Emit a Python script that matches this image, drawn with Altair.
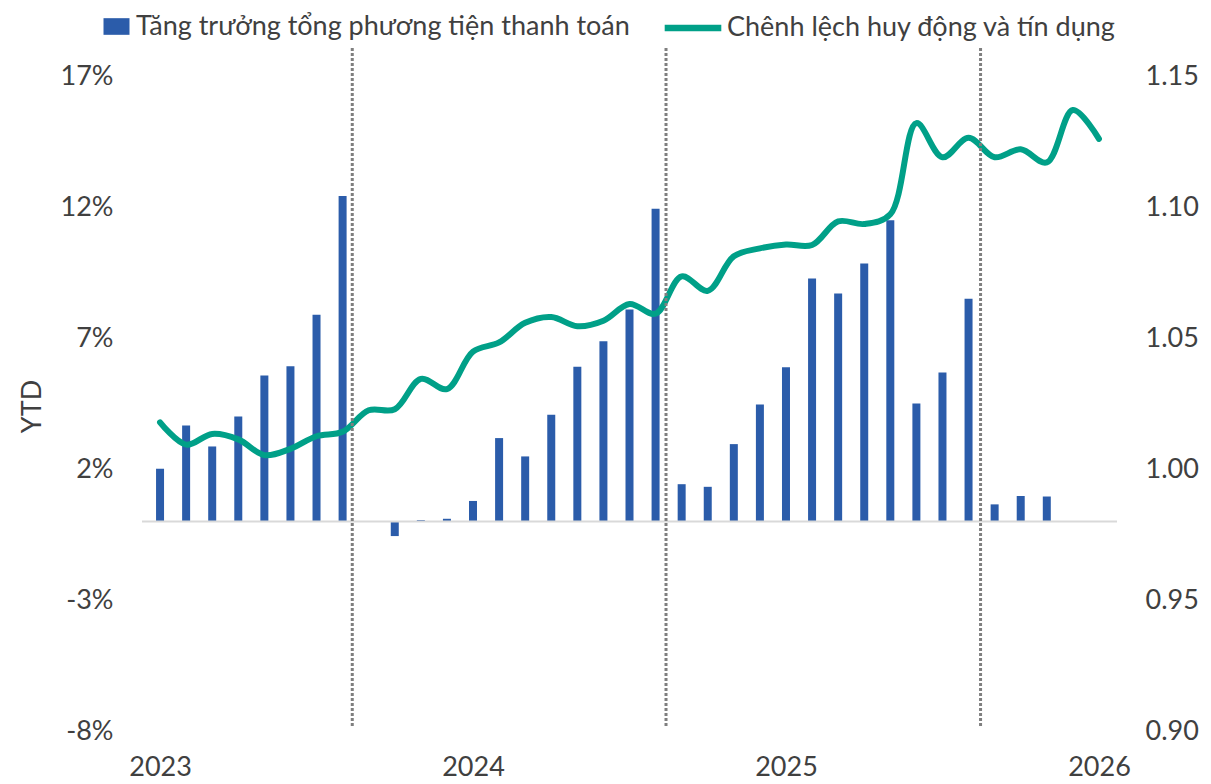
import altair as alt
import pandas as pd

# ---- data ----
bar_month = list(range(35))  # month index, 0 = Jan 2023
bar_values = [2.01, 3.66, 2.86, 4.00, 5.57, 5.92, 7.89, 12.42, 0.0,
              -0.56, 0.05, 0.10, 0.78, 3.18, 2.48, 4.07, 5.90, 6.88, 8.09, 11.93,
              1.42, 1.32, 2.95, 4.46, 5.88, 9.27, 8.70, 9.84, 11.49, 4.50, 5.68, 8.50,
              0.65, 0.97, 0.95]
line_month = list(range(37))
line_values = [1.0178, 1.0093, 1.0134, 1.0113, 1.0053, 1.0077, 1.0125, 1.0142, 1.0224,
               1.0228, 1.0344, 1.0305, 1.0448, 1.0483, 1.0558, 1.0580, 1.0545, 1.0566,
               1.0630, 1.0593, 1.0735, 1.0680, 1.0812, 1.0842, 1.0857, 1.0855, 1.0945,
               1.0935, 1.0972, 1.1320, 1.1190, 1.1264, 1.1190, 1.1220, 1.1170, 1.1370,
               1.1260]
separator_month = [7.37, 19.40, 31.46]
separator_top = [18.07, 18.07, 18.07]
separator_bottom = [-7.86, -7.86, -7.86]
year_ticks = [0, 12, 24, 36]
year_labels = ["2023", "2024", "2025", "2026"]
left_ticks = [-8, -3, 2, 7, 12, 17]
right_ticks = [0.90, 0.95, 1.00, 1.05, 1.10, 1.15]

BAR_NAME = "Tăng trưởng tổng phương tiện thanh toán"
LINE_NAME = "Chênh lệch huy động và tín dụng"

FONT = "Lato"
TXT = "#404040"
BLUE = "#2B5CAA"
GREEN = "#00A088"

bars_df = pd.DataFrame({"m": bar_month, "v": bar_values,
                        "base": [0] * len(bar_month), "s": BAR_NAME})
line_df = pd.DataFrame({"m": line_month, "r": line_values, "s": LINE_NAME})
sep_df = pd.DataFrame({"m": separator_month, "top": separator_top, "bot": separator_bottom})
zero_df = pd.DataFrame({"z": [0]})

xscale = alt.Scale(domain=[-0.5, 36.5], nice=False, zero=False)
lscale = alt.Scale(domain=[-8, 17], nice=False, zero=False)
rscale = alt.Scale(domain=[0.90, 1.15], nice=False, zero=False)

year_expr = " : ".join(
    [f"datum.value == {t} ? '{l}'" for t, l in zip(year_ticks, year_labels)]) + " : ''"

xaxis = alt.Axis(values=year_ticks, labelExpr=year_expr, title=None,
                 labelPadding=23, labelBaseline="top", labelAlign="center")

bars = alt.Chart(bars_df).mark_bar(size=8).encode(
    x=alt.X("m:Q", scale=xscale, axis=xaxis),
    y=alt.Y("v:Q", scale=lscale,
            axis=alt.Axis(orient="left", values=left_ticks,
                          labelExpr="datum.value + '%'", title="YTD",
                          labelPadding=29, titleAngle=270, titleX=-110, titleY=330,
                          titleAlign="center", titleBaseline="middle")),
    y2="base:Q",
    fill=alt.Fill("s:N", scale=alt.Scale(domain=[BAR_NAME], range=[BLUE]),
                  legend=alt.Legend(orient="none", legendX=-39, legendY=-63, title=None,
                                    symbolType="M-1,-0.64H1V0.64H-1Z", symbolSize=676,
                                    symbolStrokeWidth=0, labelOffset=6)),
)

zero_rule = alt.Chart(zero_df).mark_rule(color="#D9D9D9", strokeWidth=2).encode(
    y=alt.Y("z:Q", scale=lscale, axis=None)
)

line = alt.Chart(line_df).mark_line(strokeWidth=6, interpolate="catmull-rom",
                                    strokeCap="round").encode(
    x=alt.X("m:Q", scale=xscale, axis=xaxis),
    y=alt.Y("r:Q", scale=rscale,
            axis=alt.Axis(orient="right", values=right_ticks, format=".2f",
                          title=None, labelPadding=28)),
    stroke=alt.Stroke("s:N", scale=alt.Scale(domain=[LINE_NAME], range=[GREEN]),
                      legend=alt.Legend(orient="none", legendX=519, legendY=-80, title=None,
                                        symbolType="stroke", symbolSize=3204,
                                        symbolStrokeWidth=6.5, labelOffset=2)),
)

separators = alt.Chart(sep_df).mark_rule(color="#7F7F7F", strokeWidth=3,
                                         strokeDash=[3, 2]).encode(
    x=alt.X("m:Q", scale=xscale, axis=xaxis),
    y=alt.Y("top:Q", scale=lscale, axis=None),
    y2="bot:Q",
)

chart = alt.layer(bars, zero_rule, line, separators).resolve_scale(
    y="independent"
).properties(
    width=975, height=655,
    autosize=alt.AutoSizeParams(type="none"),
    padding={"left": 134, "top": 68, "right": 86, "bottom": 49},
).configure_view(stroke=None).configure_axis(
    grid=False, domain=False, ticks=False,
    labelFont=FONT, labelFontSize=27, labelColor=TXT,
    titleFont=FONT, titleFontSize=27, titleColor=TXT, titleFontWeight="normal",
).configure_legend(
    labelFont=FONT, labelFontSize=27, labelColor=TXT, labelLimit=0, padding=0,
)

chart.save("out.html", embed_options={"renderer": "svg", "actions": False})
